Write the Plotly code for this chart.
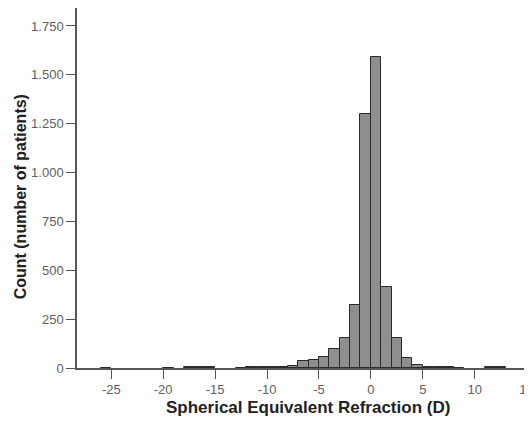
import plotly.graph_objects as go

# Histogram bins (left edge of each 1 D bin) and patient counts
bin_starts = [-26, -20, -18, -17, -16, -13, -12, -11, -10, -9, -8, -7, -6, -5, -4, -3, -2, -1, 0, 1, 2, 3, 4, 5, 6, 7, 8, 11, 12]
counts = [2, 1, 4, 5, 4, 2, 3, 3, 4, 6, 12, 34, 42, 55, 95, 151, 321, 1300, 1590, 412, 155, 49, 15, 7, 3, 3, 1, 3, 3]

y_tickvals = [0, 250, 500, 750, 1000, 1250, 1500, 1750]
y_ticktext = ["0", "250", "500", "750", "1.000", "1.250", "1.500", "1.750"]
x_tickvals = [-25, -20, -15, -10, -5, 0, 5, 10, 15]
x_ticktext = ["-25", "-20", "-15", "-10", "-5", "0", "5", "10", "15"]

x_title = "Spherical Equivalent Refraction (D)"
y_title = "Count (number of patients)"

FONT = "Liberation Sans, Arial, sans-serif"

fig = go.Figure()
fig.add_trace(go.Bar(
    x=bin_starts, y=counts, offset=0, width=1,
    marker=dict(color="#8e8e8e", line=dict(color="#2a2a2a", width=1)),
    showlegend=False,
))

axis_common = dict(
    ticks="outside", ticklen=9, tickwidth=1.3, tickcolor="#555555",
    showline=True, linecolor="#555555", linewidth=1.5,
    showgrid=False, zeroline=False, automargin=False,
    tickfont=dict(size=13, color="#606060", family=FONT),
)

fig.update_layout(
    width=524, height=415,
    margin=dict(l=69, r=0, t=0, b=55),
    paper_bgcolor="white", plot_bgcolor="white",
    font=dict(family=FONT, color="#555555", size=13),
    bargap=0,
    xaxis=dict(range=[-28.3, 15.52], tickvals=x_tickvals, ticktext=x_ticktext,
               ticklabeloverflow="allow", **axis_common),
    yaxis=dict(range=[0, 1842], tickvals=y_tickvals, ticktext=y_ticktext, **axis_common),
    annotations=[
        dict(text=x_title, xref="paper", yref="paper", x=0.507, y=0,
             xanchor="center", yanchor="middle", yshift=-39, showarrow=False,
             font=dict(size=17, color="#222222", family=FONT, weight="bold")),
        dict(text=y_title, xref="paper", yref="paper", x=0, y=0.474,
             xanchor="center", yanchor="middle", xshift=-57, textangle=-90, showarrow=False,
             font=dict(size=16, color="#222222", family=FONT, weight="bold")),
    ],
)

fig.write_html("out.html")
